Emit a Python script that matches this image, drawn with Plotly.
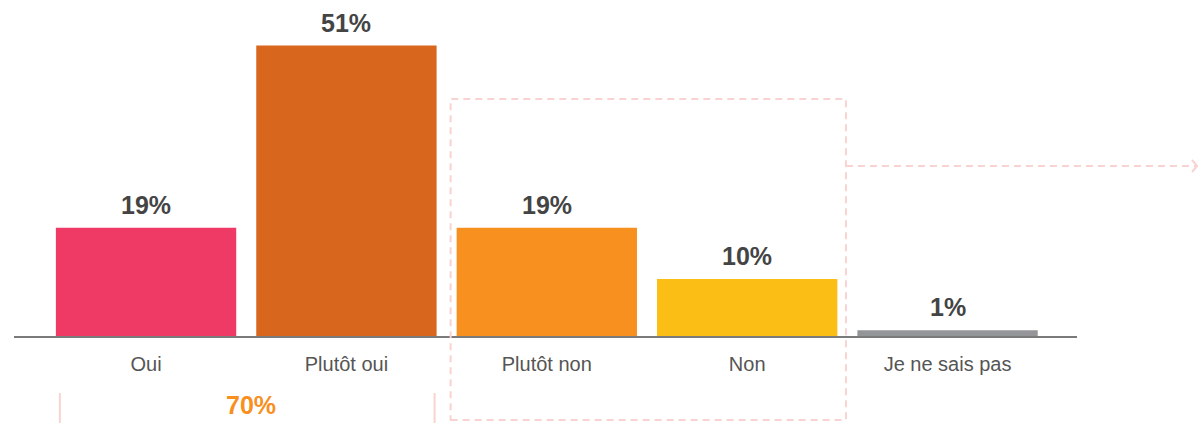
import plotly.graph_objects as go

# Survey answers and shares (%)
categories = ["Oui", "Plutôt oui", "Plutôt non", "Non", "Je ne sais pas"]
values = [19, 51, 19, 10, 1]
colors = ["#EF3A65", "#D8661D", "#F7901F", "#FBBE14", "#939598"]
total_yes_label = "70%"

W, H = 1198, 423
M_L, M_R, M_T, M_B = 14, 121, 0, 87
X_RANGE = [-0.659, 4.646]
Y_RANGE = [0, 59]


def xp(x):
    """Data x -> paper x (allows positions outside the plot area)."""
    return (x - X_RANGE[0]) / (X_RANGE[1] - X_RANGE[0])


def yp_px(py):
    """Pixel y from top of the page -> paper y."""
    plot_h = H - M_T - M_B
    return (H - M_B - py) / plot_h


fig = go.Figure(
    go.Bar(
        x=categories,
        y=values,
        marker=dict(color=colors, line=dict(width=0)),
        width=0.9,
        hoverinfo="skip",
        cliponaxis=False,
    )
)

# Value labels above bars
for c, v in zip(categories, values):
    fig.add_annotation(
        x=c, y=v, text=f"<b>{v}%</b>", showarrow=False,
        yanchor="bottom", yshift=7,
        font=dict(family="Liberation Sans, Arial, sans-serif", size=25, color="#444444"),
    )

pink = "#F9D3D1"
dash = "7px,5px"

# Dashed frame around the "non" answers, with a pointer to the right
box_l, box_r = xp(1.52), xp(3.493)
box_t, box_b = yp_px(99), yp_px(420)
fig.add_shape(type="rect", xref="paper", yref="paper",
              x0=box_l, x1=box_r, y0=box_b, y1=box_t,
              line=dict(color=pink, width=2, dash=dash), layer="above")
arrow_y = yp_px(166)
arrow_end = xp(5.245)
fig.add_shape(type="line", xref="paper", yref="paper",
              x0=box_r, x1=arrow_end, y0=arrow_y, y1=arrow_y,
              line=dict(color=pink, width=2, dash=dash))
dx = 5 / (W - M_L - M_R)
dy = 6 / (H - M_T - M_B)
fig.add_shape(type="path", xref="paper", yref="paper",
              path=f"M {arrow_end - dx},{arrow_y + dy} L {arrow_end},{arrow_y} L {arrow_end - dx},{arrow_y - dy}",
              line=dict(color=pink, width=2))

# Bracket under the "oui" answers
for bx in (-0.43, 1.44):
    fig.add_shape(type="line", xref="paper", yref="paper",
                  x0=xp(bx), x1=xp(bx), y0=yp_px(393), y1=yp_px(424),
                  line=dict(color=pink, width=2))
fig.add_annotation(
    xref="paper", yref="paper", x=xp(0.524), y=yp_px(405),
    text=f"<b>{total_yes_label}</b>", showarrow=False,
    xanchor="center", yanchor="middle",
    font=dict(family="Liberation Sans, Arial, sans-serif", size=25, color="#F7901F"),
)

fig.update_layout(
    width=W, height=H,
    margin=dict(l=M_L, r=M_R, t=M_T, b=M_B),
    paper_bgcolor="white", plot_bgcolor="white",
    showlegend=False,
    bargap=0.1,
    xaxis=dict(
        range=X_RANGE, showgrid=False, zeroline=False,
        showline=True, linecolor="#7a7a7a", linewidth=1.5,
        ticks="", ticklabelstandoff=9,
        tickfont=dict(family="Liberation Sans, Arial, sans-serif", size=20, color="#555555"),
        fixedrange=True,
    ),
    yaxis=dict(range=Y_RANGE, visible=False, fixedrange=True),
)

fig.write_html("out.html", config={"displayModeBar": False})
